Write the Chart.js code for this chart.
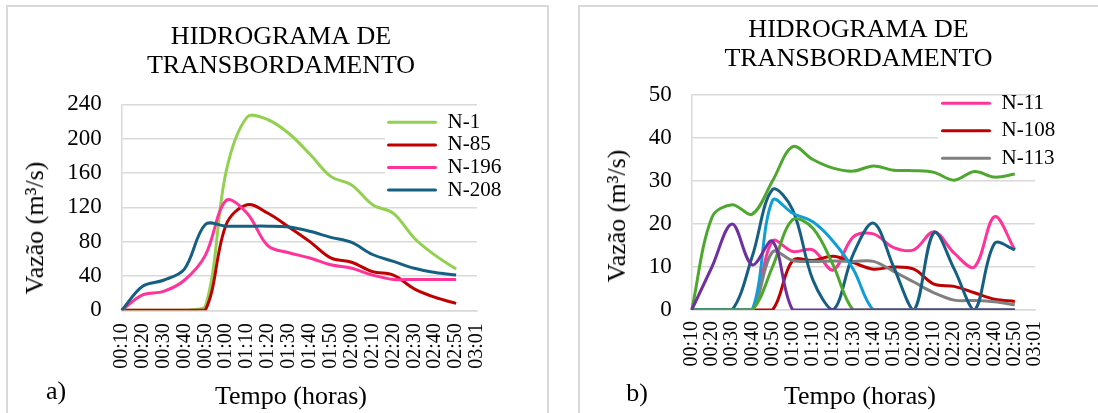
<!DOCTYPE html>
<html>
<head>
<meta charset="utf-8">
<script src="https://cdn.jsdelivr.net/npm/chart.js@4.4.1/dist/chart.umd.min.js"></script>
<style>
body { margin: 0; width: 1098px; height: 413px; overflow: hidden; position: relative; background: #fff; font-family: 'Liberation Serif', 'Times New Roman', serif; }
.moldura { position: absolute; border: 2px solid #d9d9d9; }
canvas { position: absolute; }
.txt { position: absolute; font-size: 26px; line-height: 26px; white-space: nowrap; color: #000; }
</style>
</head>
<body>
<div class="moldura" style="left:6px; top:5px; width:539px; height:420px;"></div>
<div class="moldura" style="left:578px; top:5px; width:600px; height:420px;"></div>
<canvas id="graficoA" width="541" height="407" style="left:7px; top:6px;"></canvas>
<canvas id="graficoB" width="519" height="407" style="left:579px; top:6px;"></canvas>
<div class="txt" style="left:35px; top:228px; transform: translate(-50%, -50%) rotate(-90deg);">Vazão (m³/s)</div>
<div class="txt" style="left:291px; top:383px; transform: translateX(-50%);">Tempo (horas)</div>
<div class="txt" style="left:56px; top:378px; transform: translateX(-50%);">a)</div>
<div class="txt" style="left:617px; top:216px; transform: translate(-50%, -50%) rotate(-90deg);">Vazão (m³/s)</div>
<div class="txt" style="left:860px; top:383px; transform: translateX(-50%);">Tempo (horas)</div>
<div class="txt" style="left:637px; top:380px; transform: translateX(-50%);">b)</div>
<script>
var horas = ['00:10', '00:20', '00:30', '00:40', '00:50', '01:00', '01:10', '01:20', '01:30',
  '01:40', '01:50', '02:00', '02:10', '02:20', '02:30', '02:40', '02:50', '03:01'];

// grafico a)
var nomesA = ['N-1', 'N-85', 'N-196', 'N-208'];
var vazaoN1 = [0, 0, 0, 0, 4, 162, 225, 222, 206, 182, 156, 146, 123, 113, 84, 64, 48];
var vazaoN85 = [0, 0, 0, 0, 0, 100, 123, 113, 97, 80, 61, 56, 45, 41, 25, 15, 8];
var vazaoN196 = [0, 18, 22, 35, 64, 128, 113, 75, 67, 61, 53, 49, 41, 36, 36, 36, 36];
var vazaoN208 = [0, 28, 35, 48, 100, 98, 98, 98, 97, 92, 85, 79, 65, 57, 49, 44, 41];
var ticksA = [0, 40, 80, 120, 160, 200, 240];

// grafico b) - so as tres primeiras series aparecem na legenda
var nomesB = ['N-11', 'N-108', 'N-113', 'serie 4', 'serie 5', 'serie 6', 'serie 7', 'serie 8'];
var vazaoN11 = [0, 0, 0, 0, 16, 13.6, 14, 9.3, 17, 17.7, 14.5, 14, 18.2, 13.2, 10, 21.7, 14];
var vazaoN108 = [0, 0, 0, 0, 0, 11.5, 11.5, 12.5, 11, 9.5, 10, 9.5, 6, 5.5, 4, 2.5, 2];
var vazaoN113 = [0, 0, 0, 0, 13.5, 11.5, 11.3, 11.4, 11.3, 11.3, 9, 6.5, 4, 2.3, 2.2, 1.9, 1.2];
var vazaoSerie4 = [0, 21.5, 24.5, 22.3, 30, 38, 35, 33, 32.3, 33.5, 32.5, 32.4, 32, 30.2, 32.2, 30.9, 31.6];
var vazaoSerie5 = [0, 0, 0, 12.5, 28, 23.3, 7, 0, 13, 20.2, 10, 0, 18, 9.5, 0, 15.5, 14];
var vazaoSerie6 = [0, 0, 0, 0, 25.5, 22.5, 20.5, 16, 9.5, 0, 0, 0, 0, 0, 0, 0, 0];
var vazaoSerie7 = [0, 0, 0, 0, 10, 21, 19, 10.5, 0, 0, 0, 0, 0, 0, 0, 0, 0];
var vazaoSerie8 = [0, 10, 20, 10.5, 16, 0, 0, 0, 0, 0, 0, 0, 0, 0, 0, 0, 0];
var ticksB = [0, 10, 20, 30, 40, 50];

var coresA = ['#92d050', '#c00000', '#ff3399', '#156082'];
var coresB = ['#ff3399', '#c00000', '#808080', '#4ea72e', '#156082', '#0f9ed5', '#4ea72e', '#7030a0'];

Chart.defaults.font.family = "'Liberation Serif', 'Times New Roman', serif";
Chart.defaults.color = '#000';

// posiciona titulo e legenda como no Excel, com fundo branco atras da legenda
var caixaLegenda = {
  id: 'caixaLegenda',
  afterLayout: function(chart, args, opts) {
    var t = chart.titleBlock;
    var w = t.right - t.left;
    t.left = opts.tituloX - w / 2;
    t.right = t.left + w;
    var lg = chart.legend;
    lg.left = opts.legendaX;
    lg.top = opts.legendaY;
    lg.right = lg.left + lg.width;
    lg.bottom = lg.top + lg.height;
  },
  beforeDatasetsDraw: function(chart, args, opts) {
    var ctx = chart.ctx;
    ctx.save();
    ctx.fillStyle = '#ffffff';
    ctx.fillRect(opts.fundo[0], opts.fundo[1], opts.fundo[2], opts.fundo[3]);
    ctx.restore();
    chart.legend.draw();
  }
};

function fazGrafico(id, nomes, series, cores, ticksY, cfg) {
  var ctx = document.getElementById(id).getContext('2d');
  return new Chart(ctx, {
    type: 'line',
    data: {
      labels: horas,
      datasets: series.map(function(s, i) {
        return {
          label: nomes[i],
          data: s,
          borderColor: cores[i],
          backgroundColor: cores[i],
          borderWidth: 3,
          pointRadius: 0,
          tension: 0.35,
          fill: false,
          order: -i
        };
      })
    },
    plugins: [caixaLegenda],
    options: {
      responsive: false,
      animation: false,
      devicePixelRatio: 1,
      events: [],
      layout: { padding: { left: 0, top: 0, bottom: 0, right: cfg.padDir } },
      plugins: {
        tooltip: { enabled: false },
        title: {
          display: true,
          text: ['HIDROGRAMA DE', 'TRANSBORDAMENTO'],
          color: '#000',
          font: { size: 26, weight: 'normal', lineHeight: 1.115 },
          padding: { top: cfg.titTopo, bottom: cfg.titBase }
        },
        legend: {
          position: 'chartArea',
          align: 'start',
          labels: {
            font: { size: 21 },
            color: '#000',
            boxWidth: 50,
            boxHeight: 3,
            padding: cfg.legPad,
            generateLabels: function(chart) {
              return chart.data.datasets.slice(0, cfg.naLegenda).map(function(ds, i) {
                return {
                  text: ds.label,
                  fillStyle: ds.borderColor,
                  strokeStyle: ds.borderColor,
                  fontColor: '#000',
                  lineWidth: 0,
                  borderRadius: 1.5,
                  hidden: false,
                  datasetIndex: i
                };
              });
            }
          }
        },
        caixaLegenda: { tituloX: cfg.tituloX, legendaX: cfg.legendaX, legendaY: cfg.legendaY, fundo: cfg.fundo }
      },
      scales: {
        x: {
          type: 'category',
          grid: { display: false, drawTicks: false },
          border: { color: '#d9d9d9', width: 1.5 },
          ticks: { autoSkip: false, minRotation: 90, maxRotation: 90, padding: cfg.padX, color: '#000', font: { size: 20 } },
          afterFit: function(s) { s.height = cfg.altX; }
        },
        y: {
          min: ticksY[0],
          max: ticksY[ticksY.length - 1],
          grid: { color: '#d9d9d9', lineWidth: 1.5, drawTicks: false },
          border: { color: '#d9d9d9', width: 1.5 },
          ticks: { padding: 20, color: '#000', font: { size: 23 } },
          afterBuildTicks: function(s) {
            s.ticks = ticksY.map(function(v) { return { value: v }; });
          },
          afterFit: function(s) { s.width = cfg.largY; }
        }
      }
    }
  });
}

fazGrafico('graficoA', nomesA, [vazaoN1, vazaoN85, vazaoN196, vazaoN208], coresA, ticksA, {
  padDir: 71, largY: 114.7, altX: 102.7, padX: 13,
  titTopo: 16.2, titBase: 24.1, tituloX: 274,
  legPad: 1.6, legendaX: 378.4, legendaY: 104.2, naLegenda: 4,
  fundo: [378, 104, 115, 92]
});

fazGrafico('graficoB', nomesB, [vazaoN11, vazaoN108, vazaoN113, vazaoSerie4, vazaoSerie5, vazaoSerie6, vazaoSerie7, vazaoSerie8], coresB, ticksB, {
  padDir: 63, largY: 112.7, altX: 103, padX: 11,
  titTopo: 9.5, titBase: 21.5, tituloX: 279.5,
  legPad: 6.5, legendaX: 355.5, legendaY: 80.3, naLegenda: 3,
  fundo: [359, 91, 122, 73]
});
</script>
</body>
</html>
